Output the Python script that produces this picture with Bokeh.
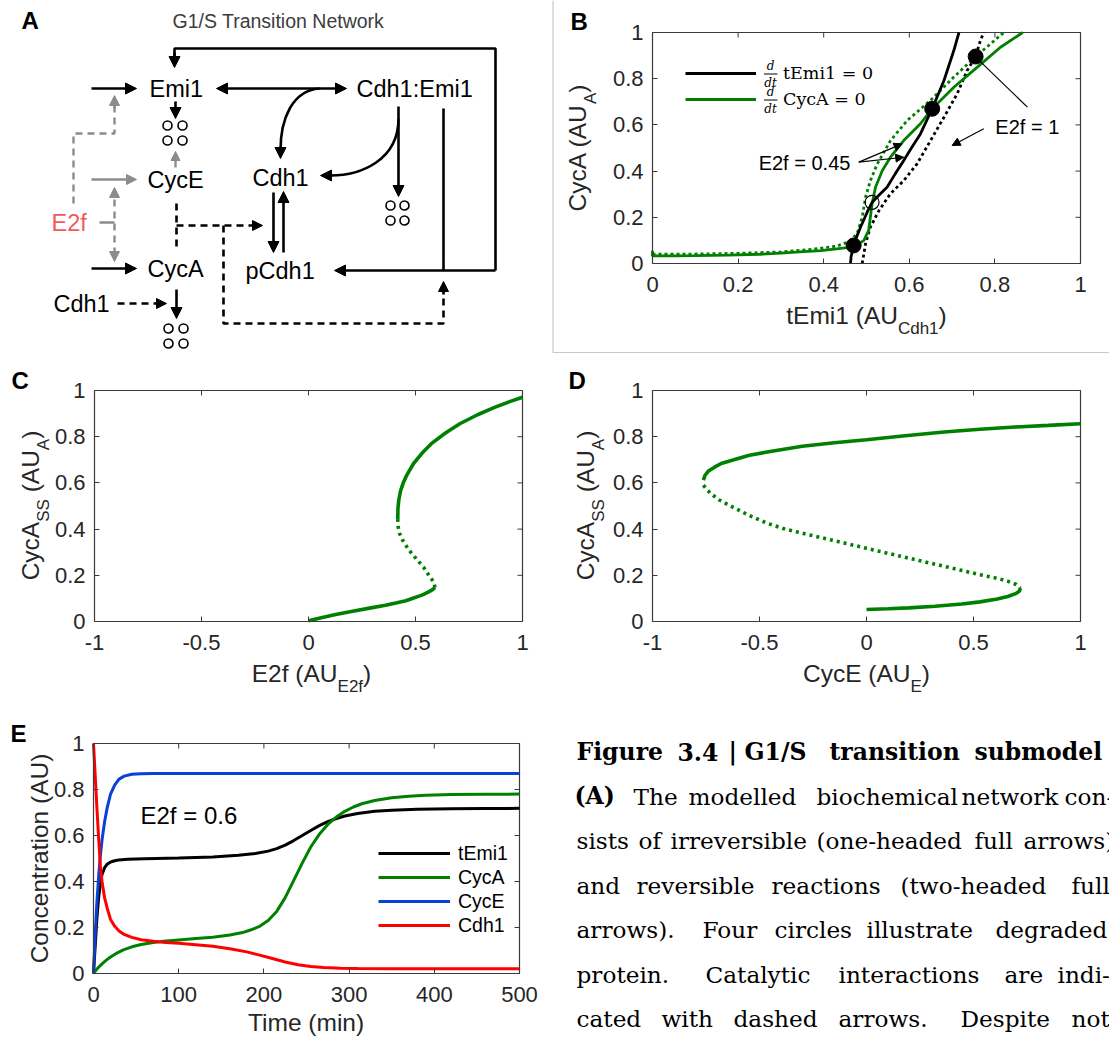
import math
from bokeh.plotting import figure
from bokeh.models import (Range1d, LinearAxis, FixedTicker, Label, Arrow, NormalHead,
                          Legend, LegendItem)
from bokeh.embed import file_html
from bokeh.resources import INLINE
from bokeh.core.properties import value

# ---------------- Panel B: nullclines in the (tEmi1, CycA) plane ----------------
temi1_null_e045_x = [0.4626, 0.464, 0.470, 0.478, 0.486, 0.5016, 0.513, 0.53, 0.548, 0.567,
                     0.587, 0.606, 0.626, 0.6535, 0.681, 0.704, 0.716]
temi1_null_e045_y = [0.0, 0.03, 0.078, 0.12, 0.157, 0.222, 0.265, 0.298, 0.33, 0.388,
                     0.446, 0.503, 0.561, 0.67, 0.792, 0.922, 1.0]
temi1_null_e1_x = [0.490, 0.4977, 0.509, 0.529, 0.556, 0.587, 0.618, 0.6495, 0.681, 0.712,
                   0.735, 0.755, 0.766, 0.774]
temi1_null_e1_y = [0.0, 0.085, 0.157, 0.229, 0.302, 0.359, 0.431, 0.532, 0.633, 0.735,
                   0.835, 0.896, 0.965, 1.0]
cyca_null_e045_x = [0.0, 0.0, 0.05, 0.1, 0.178, 0.25, 0.3, 0.344, 0.393, 0.43, 0.47, 0.494,
                    0.505, 0.509, 0.513, 0.521, 0.537, 0.556, 0.587, 0.626, 0.6535, 0.704,
                    0.759, 0.813, 0.865]
cyca_null_e045_y = [0.055, 0.033, 0.033, 0.034, 0.036, 0.040, 0.045, 0.05, 0.056, 0.063,
                    0.072, 0.1, 0.143, 0.2, 0.258, 0.33, 0.403, 0.46, 0.532, 0.605, 0.67,
                    0.763, 0.85, 0.936, 1.0]
cyca_null_e1_x = [0.0, 0.1, 0.2, 0.3, 0.38, 0.43, 0.46, 0.478, 0.49, 0.4977, 0.509, 0.525,
                  0.556, 0.595, 0.6495, 0.704, 0.755, 0.817, 0.821]
cyca_null_e1_y = [0.04, 0.041, 0.044, 0.05, 0.063, 0.075, 0.095, 0.129, 0.2, 0.287, 0.359,
                  0.43, 0.532, 0.619, 0.706, 0.807, 0.896, 0.994, 1.0]
stable_ss_x = [0.470, 0.6535, 0.755]
stable_ss_y = [0.078, 0.67, 0.896]
unstable_ss_x = [0.513]
unstable_ss_y = [0.265]
unit_ticks = [0, 0.2, 0.4, 0.6, 0.8, 1]
unit_tick_labels = ["0", "0.2", "0.4", "0.6", "0.8", "1"]

# ---------------- Panel C: CycA steady states against E2f ----------------
c_low_x = [0.0, 0.06, 0.127, 0.2, 0.292, 0.36, 0.408, 0.455, 0.491, 0.53, 0.557, 0.578, 0.591]
c_low_y = [0.003, 0.016, 0.03, 0.043, 0.059, 0.07, 0.08, 0.09, 0.102, 0.114, 0.126, 0.137, 0.147]
c_mid_x = [0.591, 0.586, 0.566, 0.54, 0.508, 0.48, 0.458, 0.44, 0.425, 0.419, 0.417]
c_mid_y = [0.147, 0.17, 0.195, 0.232, 0.267, 0.297, 0.325, 0.352, 0.382, 0.41, 0.44]
c_up_x = [0.417, 0.418, 0.422, 0.43, 0.442, 0.46, 0.491, 0.53, 0.574, 0.64, 0.707, 0.79,
          0.872, 0.94, 1.0]
c_up_y = [0.44, 0.49, 0.526, 0.565, 0.598, 0.635, 0.684, 0.728, 0.77, 0.816, 0.856, 0.895,
          0.928, 0.952, 0.971]
sym_ticks = [-1, -0.5, 0, 0.5, 1]
sym_tick_labels = ["-1", "-0.5", "0", "0.5", "1"]

# ---------------- Panel D: CycA steady states against CycE ----------------
d_up_x = [-0.762, -0.755, -0.74, -0.71, -0.679, -0.62, -0.547, -0.45, -0.3, -0.15, 0.0,
          0.18, 0.363, 0.53, 0.694, 0.85, 1.0]
d_up_y = [0.612, 0.632, 0.65, 0.668, 0.684, 0.70, 0.72, 0.736, 0.759, 0.774, 0.787, 0.804,
          0.82, 0.832, 0.842, 0.849, 0.856]
d_mid_x = [-0.762, -0.745, -0.729, -0.69, -0.629, -0.55, -0.464, -0.38, -0.299, -0.133,
           0.032, 0.198, 0.363, 0.528, 0.62, 0.661, 0.70, 0.719]
d_mid_y = [0.59, 0.57, 0.555, 0.527, 0.497, 0.46, 0.425, 0.40, 0.382, 0.346, 0.31, 0.274,
           0.239, 0.203, 0.185, 0.174, 0.16, 0.145]
d_low_x = [0.719, 0.715, 0.700, 0.660, 0.611, 0.53, 0.446, 0.32, 0.198, 0.1, 0.0]
d_low_y = [0.145, 0.132, 0.122, 0.108, 0.097, 0.085, 0.076, 0.066, 0.059, 0.055, 0.052]

# ---------------- Panel E: time courses at E2f = 0.6 ----------------
t_temi1 = [0, 2, 4, 6, 8, 10, 13, 16, 20, 25, 30, 40, 60, 100, 140, 170, 190, 205, 215, 225,
           235, 245, 255, 265, 275, 285, 295, 310, 330, 350, 380, 420, 460, 500]
temi1 = [0.0, 0.12, 0.24, 0.33, 0.39, 0.43, 0.46, 0.475, 0.485, 0.49, 0.494, 0.497, 0.499,
         0.502, 0.507, 0.514, 0.522, 0.532, 0.543, 0.558, 0.578, 0.60, 0.622, 0.643, 0.66,
         0.674, 0.685, 0.696, 0.705, 0.710, 0.714, 0.716, 0.717, 0.718]
t_cyca = [0, 3, 6, 10, 15, 20, 28, 35, 45, 56, 70, 85, 100, 120, 140, 160, 175, 185, 195,
          205, 215, 225, 235, 245, 255, 265, 275, 285, 295, 305, 315, 330, 350, 370, 390,
          420, 460, 500]
cyca = [0.0, 0.015, 0.027, 0.042, 0.058, 0.072, 0.09, 0.103, 0.116, 0.126, 0.135, 0.141,
        0.146, 0.152, 0.158, 0.167, 0.178, 0.19, 0.205, 0.23, 0.27, 0.33, 0.405, 0.48, 0.55,
        0.605, 0.648, 0.68, 0.705, 0.724, 0.738, 0.752, 0.764, 0.771, 0.775, 0.778, 0.779, 0.78]
t_cyce = [0, 2, 4, 6, 8, 10, 13, 16, 20, 25, 30, 36, 45, 56, 70, 100, 200, 300, 400, 500]
cyce = [0.0, 0.17, 0.31, 0.42, 0.51, 0.58, 0.66, 0.72, 0.78, 0.82, 0.845, 0.858, 0.866,
        0.869, 0.87, 0.87, 0.87, 0.87, 0.87, 0.87]
t_cdh1 = [0, 2, 4, 6, 8, 10, 13, 16, 20, 25, 30, 36, 45, 56, 70, 85, 100, 120, 140, 160, 180,
          195, 210, 225, 240, 255, 270, 290, 310, 350, 400, 500]
cdh1 = [1.0, 0.86, 0.72, 0.59, 0.47, 0.40, 0.33, 0.285, 0.235, 0.205, 0.185, 0.17, 0.157,
        0.147, 0.14, 0.135, 0.131, 0.125, 0.118, 0.108, 0.094, 0.08, 0.065, 0.05, 0.038,
        0.03, 0.026, 0.023, 0.022, 0.021, 0.021, 0.021]
time_ticks = [0, 100, 200, 300, 400, 500]
time_tick_labels = ["0", "100", "200", "300", "400", "500"]

# ---------------- style ----------------
W, H = 1109, 1037
SANS = "Liberation Sans"
SERIF = "DejaVu Serif"
INK = "#262626"
FRAME = "#3a3a3a"
GREEN = "#008000"
BLUE = "#0840d8"
RED = "#ff0000"
GREY = "#8c8c8c"
TICK_PX = 22
LAB_PX = 24.5
SUB_PX = 17

ARIAL = {' ': 278, '(': 333, ')': 333, 'A': 667, 'C': 722, 'E': 667, 'S': 667, 'U': 722,
         'T': 611, 'a': 556, 'c': 500, 'd': 556, 'e': 556, 'f': 278, 'h': 556, 'i': 222,
         'm': 833, 'n': 556, 'o': 556, 'r': 333, 't': 278, 'y': 500, '0': 556, '1': 556,
         '2': 556, ':': 278, '=': 584, '.': 278}


def text_width(s, size):
    return sum(ARIAL.get(ch, 556) for ch in s) / 1000.0 * size


# Panel boxes on the page (left, right, top, bottom in pixels) and their data limits
boxes = {
    "B": dict(box=(652, 1080, 32, 263), xr=(0, 1), yr=(0, 1)),
    "C": dict(box=(94, 522, 390, 621), xr=(-1, 1), yr=(0, 1)),
    "D": dict(box=(652, 1080, 390, 621), xr=(-1, 1), yr=(0, 1)),
    "E": dict(box=(93, 519, 743, 973), xr=(0, 500), yr=(0, 1)),
}
extra_x, extra_y = {}, {}
for key, spec in boxes.items():
    l, r, t, b = spec["box"]
    x0, x1 = spec["xr"]
    y0, y1 = spec["yr"]
    sx = (x1 - x0) / (r - l)
    sy = (y1 - y0) / (b - t)
    spec["sx"], spec["sy"] = sx, sy
    extra_x[key] = Range1d(x0 - l * sx, x1 + (W - r) * sx)
    extra_y[key] = Range1d(y0 - (H - b) * sy, y1 + t * sy)

# one page-sized canvas; the default ranges are page pixels (y downwards)
p = figure(width=W, height=H, x_range=Range1d(0, W), y_range=Range1d(H, 0),
           x_axis_type=None, y_axis_type=None, min_border=0, output_backend="svg",
           toolbar_location=None)
p.outline_line_color = None
p.background_fill_color = "white"
p.border_fill_color = "white"
p.extra_x_ranges = extra_x
p.extra_y_ranges = extra_y


def panel_axes(key, xt, xtl, yt, ytl):
    spec = boxes[key]
    x0, x1 = spec["xr"]
    y0, y1 = spec["yr"]
    common = dict(x_range_name=key, y_range_name=key, axis_line_color=FRAME,
                  axis_line_width=1.2, major_tick_in=5, major_tick_out=0,
                  major_tick_line_color=FRAME, major_tick_line_width=1,
                  minor_tick_line_color=None, major_label_text_font=SANS,
                  major_label_text_font_size=f"{TICK_PX}px", major_label_text_color=INK)
    xa = LinearAxis(ticker=FixedTicker(ticks=xt), fixed_location=y0, bounds=(x0, x1),
                    major_label_overrides=dict(zip(xt, xtl)), major_label_standoff=13,
                    **common)
    ya = LinearAxis(ticker=FixedTicker(ticks=yt), fixed_location=x0, bounds=(y0, y1),
                    major_label_overrides=dict(zip(yt, ytl)), major_label_standoff=9,
                    **common)
    p.add_layout(xa, "below")
    p.add_layout(ya, "left")
    # closing box with inward ticks on the top and right edges
    p.segment(x0=[x0, x1], y0=[y1, y0], x1=[x1, x1], y1=[y1, y1], x_range_name=key,
              y_range_name=key, line_color=FRAME, line_width=1.2)
    tick_dx = 5 * spec["sx"]
    tick_dy = 5 * spec["sy"]
    p.segment(x0=xt, y0=[y1] * len(xt), x1=xt, y1=[y1 - tick_dy] * len(xt),
              x_range_name=key, y_range_name=key, line_color=FRAME, line_width=1)
    p.segment(x0=[x1] * len(yt), y0=yt, x1=[x1 - tick_dx] * len(yt), y1=yt,
              x_range_name=key, y_range_name=key, line_color=FRAME, line_width=1)


def page_label(x, y, text, size, color=INK, font=SANS, style="normal", align="left",
               angle=0.0):
    p.add_layout(Label(x=x, y=y, text=text, text_font=font, text_font_size=f"{size}px",
                       text_font_style=style, text_color=color, text_align=align,
                       text_baseline="middle", angle=angle))


def h_label(cx, cy, pieces):
    total = sum(text_width(s, sz) for s, sz, d in pieces)
    x = cx - total / 2
    for s, sz, d in pieces:
        lead = len(s) - len(s.lstrip())
        x += text_width(s[:lead], sz)
        page_label(x, cy + d, s.lstrip(), sz)
        x += text_width(s.lstrip(), sz)


def v_label(cx, cy, pieces):
    total = sum(text_width(s, sz) for s, sz, d in pieces)
    y = cy + total / 2
    for s, sz, d in pieces:
        lead = len(s) - len(s.lstrip())
        y -= text_width(s[:lead], sz)
        page_label(cx + d, y, s.lstrip(), sz, angle=math.pi / 2)
        y -= text_width(s.lstrip(), sz)


def to_page(key, x, y):
    spec = boxes[key]
    l, r, t, b = spec["box"]
    return (l + (x - spec["xr"][0]) / spec["sx"], b - (y - spec["yr"][0]) / spec["sy"])


# ================= Panel A: network diagram =================
page_label(21, 20, "A", 24, color="black", style="bold")
page_label(172, 20, "G1/S Transition Network", 19.5, color="#3c3c3c")

species = ["Emi1", "Cdh1:Emi1", "CycE", "Cdh1", "CycA", "pCdh1", "Cdh1"]
species_x = [149, 356, 147, 252, 147, 245, 53]
species_y = [88, 88, 179, 177, 268, 270, 303]
p.text(x=species_x, y=species_y, text=species, text_font=value(SANS),
       text_font_size="23.5px", text_baseline="middle", text_color="black")
p.text(x=[51], y=[222], text=["E2f"], text_font=value(SANS), text_font_size="23.5px",
       text_baseline="middle", text_color="#f05a5a")


def a_arrow(x0, y0, x1, y1, color="black", dash="solid", lw=2.6, both=False, head=11):
    def hd():
        return NormalHead(size=head, fill_color=color, line_color=color, line_width=1)
    p.add_layout(Arrow(x_start=x0, y_start=y0, x_end=x1, y_end=y1, line_color=color,
                       line_width=lw, line_dash=dash, end=hd(),
                       start=hd() if both else None))


# solid reaction arrows
for seg in [(91, 88, 136, 88), (175, 101, 175, 118), (91, 268, 136, 268),
            (176, 289, 176, 318), (398, 106, 398, 196), (273, 192, 273, 252),
            (283, 252, 283, 191), (495, 270, 334, 270), (174, 52, 174, 67)]:
    a_arrow(*seg)
a_arrow(216, 88, 346, 88, both=True)
p.line([495, 495, 174, 174], [270, 48, 48, 56], line_color="black", line_width=2.6)
p.line([443, 443], [108, 270], line_color="black", line_width=2.6)

# grey (E2f-driven) arrows
a_arrow(91, 179, 136, 179, color=GREY, lw=2.4, head=10)
a_arrow(175, 167, 175, 151, color=GREY, lw=2.4, head=9)
p.line([73, 73, 114, 114], [203, 133, 133, 104], line_color=GREY, line_width=2.4,
       line_dash="7 5")
a_arrow(114, 108, 114, 95, color=GREY, lw=2.4, head=10)
a_arrow(114, 187, 114, 261, color=GREY, lw=2.4, dash="7 5", both=True, head=10)
p.line([99, 114], [222, 222], line_color=GREY, line_width=2.4)

# dashed catalytic interactions
a_arrow(117, 303, 166, 303, dash="7 5", head=10)
p.line([176, 176], [203, 246], line_color="black", line_width=2.6, line_dash="7 5")
a_arrow(176, 225, 262, 225, dash="7 5", head=10)
p.line([223, 223, 443, 443], [225, 323, 323, 292], line_color="black", line_width=2.6,
       line_dash="7 5")
a_arrow(443, 294, 443, 281, head=10)

# curved arrows from the complex back to Cdh1
p.bezier(x0=[319, 398], y0=[88, 118], x1=[280, 330], y1=[150, 175],
         cx0=[292, 398], cy0=[90, 160], cx1=[280, 360], cy1=[118, 175],
         line_color="black", line_width=2.6)
a_arrow(280, 146, 280, 158)
a_arrow(332, 175, 320, 175)

# degraded protein (four circles)
deg_x = [167, 182, 167, 182, 168, 183, 168, 183, 390, 404, 390, 404]
deg_y = [125, 125, 140, 140, 328, 328, 343, 343, 205, 205, 220, 220]
p.scatter(deg_x, deg_y, size=9, fill_color="white", line_color="black", line_width=1.6)

# thin grey rule around panel B
p.line([552.5, 552.5, 1109], [0, 352, 352], line_color="#c8c8c8", line_width=1.2)

# ================= Panel B =================
panel_axes("B", unit_ticks, unit_tick_labels, unit_ticks, unit_tick_labels)
rng = dict(x_range_name="B", y_range_name="B")
p.line(cyca_null_e1_x, cyca_null_e1_y, line_color=GREEN, line_width=2.8, line_dash="3 3", **rng)
p.line(temi1_null_e1_x, temi1_null_e1_y, line_color="black", line_width=2.8, line_dash="3 3",
       **rng)
rB_g = p.line(cyca_null_e045_x, cyca_null_e045_y, line_color=GREEN, line_width=2.8, **rng)
rB_k = p.line(temi1_null_e045_x, temi1_null_e045_y, line_color="black", line_width=2.8, **rng)
p.scatter(stable_ss_x, stable_ss_y, size=15, color="black", **rng)
p.scatter(unstable_ss_x, unstable_ss_y, size=14, fill_color=None, line_color="black",
          line_width=1.2, **rng)

legB = Legend(items=[LegendItem(label="tEmi1 = 0", renderers=[rB_k]),
                     LegendItem(label="CycA = 0", renderers=[rB_g])],
              location=(685, H - 112), glyph_width=71, glyph_height=26, label_height=26,
              label_standoff=27, spacing=0, padding=0, margin=0,
              label_text_font=SERIF, label_text_font_size="17.5px",
              label_text_color="black", border_line_color=None, background_fill_alpha=0)
p.add_layout(legB)
for yc in (73, 99):
    page_label(770, yc - 8, "d", 12, color="black", font=SERIF, style="italic", align="center")
    page_label(770, yc + 9, "dt", 12, color="black", font=SERIF, style="italic",
               align="center")
    p.add_layout(Arrow(x_start=763.5, y_start=yc + 0.5, x_end=777, y_end=yc + 0.5, end=None,
                       line_color="black", line_width=1))

# annotations pointing at the two E2f levels
tx, ty = to_page("B", 0.248, 0.433)
page_label(tx, ty, "E2f = 0.45", 20, color="black")
sx0, sy0 = to_page("B", 0.482, 0.4387)
for ex, ey in ((0.583, 0.518), (0.587, 0.46)):
    px1, py1 = to_page("B", ex, ey)
    p.add_layout(Arrow(x_start=sx0, y_start=sy0, x_end=px1, y_end=py1, line_width=1.2,
                       line_color="black",
                       end=NormalHead(size=8, fill_color="black", line_color="black")))
tx, ty = to_page("B", 0.801, 0.59)
page_label(tx, ty, "E2f = 1", 20, color="black")
ax0, ay0 = to_page("B", 0.774, 0.583)
ax1, ay1 = to_page("B", 0.70, 0.511)
p.add_layout(Arrow(x_start=ax0, y_start=ay0, x_end=ax1, y_end=ay1, line_width=1.2,
                   line_color="black",
                   end=NormalHead(size=8, fill_color="black", line_color="black")))
lx0, ly0 = to_page("B", 0.757, 0.89)
lx1, ly1 = to_page("B", 0.876, 0.677)
p.add_layout(Arrow(x_start=lx0, y_start=ly0, x_end=lx1, y_end=ly1, end=None,
                   line_width=1.2, line_color="black"))

v_label(577, 147.5, [("CycA (AU", LAB_PX, 0), ("A", SUB_PX, 13), (")", LAB_PX, 0)])
h_label(866, 315, [("tEmi1 (AU", LAB_PX, 0), ("Cdh1", SUB_PX, 13), (")", LAB_PX, 0)])
page_label(570, 21, "B", 24, color="black", style="bold")

# ================= Panel C =================
panel_axes("C", sym_ticks, sym_tick_labels, unit_ticks, unit_tick_labels)
rng = dict(x_range_name="C", y_range_name="C")
p.line(c_low_x, c_low_y, line_color=GREEN, line_width=3.6, **rng)
p.line(c_mid_x, c_mid_y, line_color=GREEN, line_width=3.6, line_dash="3 4", **rng)
p.line(c_up_x, c_up_y, line_color=GREEN, line_width=3.6, **rng)
v_label(30, 505, [("CycA", LAB_PX, 0), ("SS", SUB_PX, 13), (" (AU", LAB_PX, 0),
                  ("A", SUB_PX, 13), (")", LAB_PX, 0)])
h_label(311, 673, [("E2f (AU", LAB_PX, 0), ("E2f", SUB_PX, 13), (")", LAB_PX, 0)])
page_label(11, 380, "C", 24, color="black", style="bold")

# ================= Panel D =================
panel_axes("D", sym_ticks, sym_tick_labels, unit_ticks, unit_tick_labels)
rng = dict(x_range_name="D", y_range_name="D")
p.line(d_up_x, d_up_y, line_color=GREEN, line_width=3.6, **rng)
p.line(d_mid_x, d_mid_y, line_color=GREEN, line_width=3.6, line_dash="3 4", **rng)
p.line(d_low_x, d_low_y, line_color=GREEN, line_width=3.6, **rng)
v_label(585, 505, [("CycA", LAB_PX, 0), ("SS", SUB_PX, 13), (" (AU", LAB_PX, 0),
                   ("A", SUB_PX, 13), (")", LAB_PX, 0)])
h_label(866, 673, [("CycE (AU", LAB_PX, 0), ("E", SUB_PX, 13), (")", LAB_PX, 0)])
page_label(568, 380, "D", 24, color="black", style="bold")

# ================= Panel E =================
panel_axes("E", time_ticks, time_tick_labels, unit_ticks, unit_tick_labels)
rng = dict(x_range_name="E", y_range_name="E")
rE_k = p.line(t_temi1, temi1, line_color="black", line_width=3, **rng)
rE_g = p.line(t_cyca, cyca, line_color=GREEN, line_width=3, **rng)
rE_b = p.line(t_cyce, cyce, line_color=BLUE, line_width=3, **rng)
rE_r = p.line(t_cdh1, cdh1, line_color=RED, line_width=3, **rng)
legE = Legend(items=[LegendItem(label="tEmi1", renderers=[rE_k]),
                     LegendItem(label="CycA", renderers=[rE_g]),
                     LegendItem(label="CycE", renderers=[rE_b]),
                     LegendItem(label="Cdh1", renderers=[rE_r])],
              location=(378, H - 937), glyph_width=72, glyph_height=24, label_height=24,
              label_standoff=8, spacing=0, padding=0, margin=0,
              label_text_font=SANS, label_text_font_size="19.5px",
              label_text_color="black", border_line_color=None, background_fill_alpha=0)
p.add_layout(legE)
page_label(140, 815, "E2f = 0.6", 24, color="black")
v_label(39, 858, [("Concentration (AU)", LAB_PX, 0)])
h_label(306, 1022, [("Time (min)", LAB_PX, 0)])
page_label(10, 733, "E", 24, color="black", style="bold")

# ================= Caption block =================
caption_lines = [
    [("Figure", 576, True), ("3.4", 677, True), ("|", 728, True), ("G1/S", 744, True),
     ("transition", 829, True), ("submodel", 974, True)],
    [("(A)", 574, True), ("The", 633, False), ("modelled", 688, False),
     ("biochemical", 816, False), ("network", 961, False), ("con-", 1064, False)],
    [("sists", 576, False), ("of", 638, False), ("irreversible", 670, False),
     ("(one-headed", 816, False), ("full", 974, False), ("arrows)", 1023, False)],
    [("and", 576, False), ("reversible", 636, False), ("reactions", 771, False),
     ("(two-headed", 900, False), ("full", 1071, False)],
    [("arrows).", 576, False), ("Four", 702, False), ("circles", 774, False),
     ("illustrate", 866, False), ("degraded", 995, False)],
    [("protein.", 576, False), ("Catalytic", 705, False), ("interactions", 838, False),
     ("are", 1004, False), ("indi-", 1057, False)],
    [("cated", 576, False), ("with", 661, False), ("dashed", 733, False),
     ("arrows.", 838, False), ("Despite", 960, False), ("not", 1071, False)],
]
for bold in (True, False):
    words, xs, ys = [], [], []
    for i, line in enumerate(caption_lines):
        for w, x, b in line:
            if b == bold:
                words.append(w)
                xs.append(x)
                ys.append(751 + 44.5 * i)
    p.text(x=xs, y=ys, text=words, text_font=value(SERIF),
           text_font_size="23.5px" if bold else "23.2px",
           text_font_style="bold" if bold else "normal", text_baseline="alphabetic",
           text_color="black")

open("out.html", "w").write(file_html(p, INLINE))
